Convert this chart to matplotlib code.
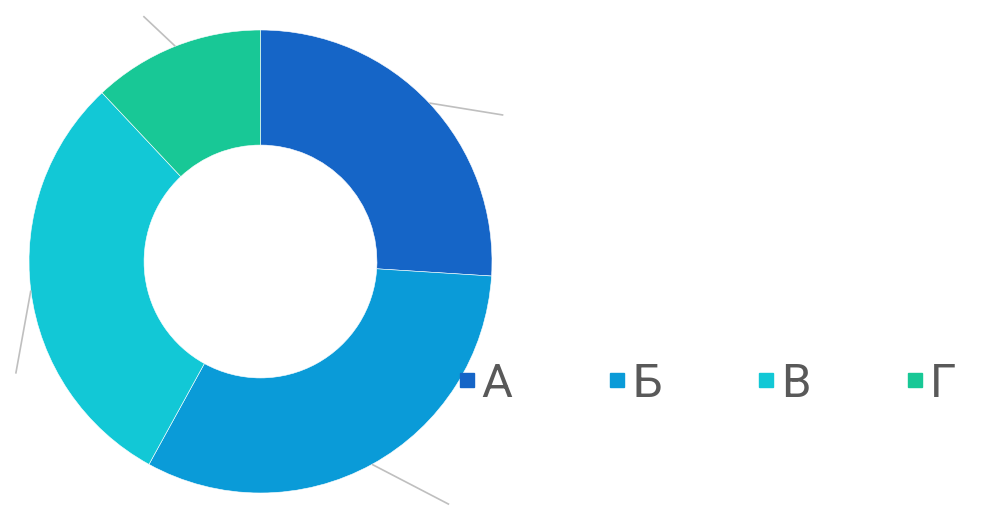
import numpy as np
import matplotlib
matplotlib.use("Agg")
import matplotlib.pyplot as plt
from matplotlib.lines import Line2D

labels = ["А", "Б", "В", "Г"]
values = [26, 32, 30, 12]
colors = ["#1565C7", "#0A9BD8", "#12C8D6", "#18C896"]
# leader line offsets (label positions relative to slice edge, in radius units)
leader_dx = [0.32, 0.333, -0.065, -0.138]
leader_dy = [-0.052, -0.173, -0.359, 0.13]

plt.rcParams['font.family'] = ['Roboto', 'DejaVu Sans']

fig = plt.figure(figsize=(9.9, 5.11), dpi=100)
ax = fig.add_axes([29 / 990, 18 / 511, 463 / 990, 463 / 511])

wedges, _ = ax.pie(values, colors=colors, startangle=90, counterclock=False,
                   radius=1, wedgeprops=dict(width=0.497, edgecolor="white", linewidth=0.4))
ax.set_xlim(-1, 1)
ax.set_ylim(-1, 1)
ax.set_aspect("equal")
ax.axis("off")

# leader lines from each slice's outer midpoint
for w, dx, dy in zip(wedges, leader_dx, leader_dy):
    ang = np.deg2rad((w.theta1 + w.theta2) / 2)
    x0, y0 = np.cos(ang), np.sin(ang)
    ax.plot([x0, x0 + dx], [y0, y0 + dy], color="#BFBFBF", lw=1.2, clip_on=False,
            solid_capstyle="butt")

handles = [Line2D([], [], marker="s", linestyle="", markersize=10.5,
                  markerfacecolor=c, markeredgecolor=c) for c in colors]
leg = fig.legend(handles, labels, ncol=4, loc="center left",
                 bbox_to_anchor=(455 / 990, 1 - 384 / 511), frameon=False,
                 fontsize=34, handlelength=0.5, handletextpad=0.06,
                 columnspacing=1.97, borderaxespad=0, borderpad=0)
for t in leg.get_texts():
    t.set_color("#595959")

fig.savefig("out.png", dpi=100)
